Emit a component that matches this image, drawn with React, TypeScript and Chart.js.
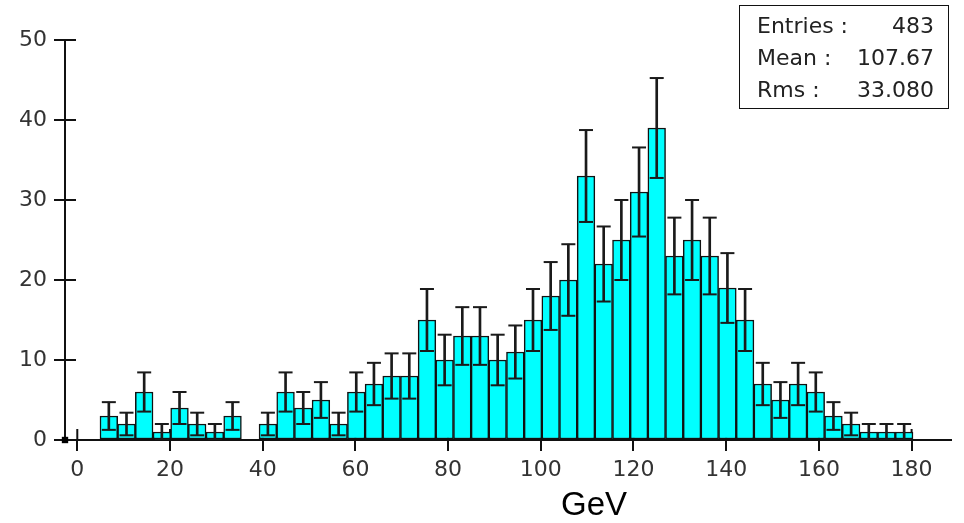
import React, { useEffect, useRef } from "react";
import { Chart, registerables } from "chart.js";

Chart.register(...registerables);

// Histogram definition (GeV)
const binLow = 4.9;
const binWidth = 3.813;
const counts = [
  3, 2, 6, 1, 4, 2, 1, 3, 0, 2, 6, 4, 5, 2, 6, 7, 8, 8, 15, 10, 13, 13, 10, 11,
  15, 18, 20, 33, 22, 25, 31, 39, 23, 25, 23, 19, 15, 7, 5, 7, 6, 3, 2, 1, 1, 1,
];
const xTicks = [0, 20, 40, 60, 80, 100, 120, 140, 160, 180];
const yTicks = [0, 10, 20, 30, 40, 50];
const xMin = -2.65;
const xMax = 188.5;
const yMin = 0;
const yMax = 50;
const axisTitle = "GeV";
const statLabels = ["Entries :", "Mean :", "Rms :"];
const statValues = ["483", "107.67", "33.080"];

const innerTicks = {
  id: "innerTicks",
  beforeDatasetsDraw(chart: any) {
    const { ctx, chartArea, scales } = chart;
    ctx.save();
    ctx.strokeStyle = "#111";
    ctx.lineWidth = 2;
    scales.y.ticks.forEach((t: any) => {
      const y = scales.y.getPixelForValue(t.value);
      ctx.beginPath();
      ctx.moveTo(chartArea.left, y);
      ctx.lineTo(chartArea.left + 11, y);
      ctx.stroke();
    });
    scales.x.ticks.forEach((t: any) => {
      const x = scales.x.getPixelForValue(t.value);
      ctx.beginPath();
      ctx.moveTo(x, chartArea.bottom);
      ctx.lineTo(x, chartArea.bottom - 11);
      ctx.stroke();
    });
    ctx.restore();
  },
};

export default function App() {
  const ref = useRef<HTMLCanvasElement>(null);

  useEffect(() => {
    const centers = counts.map((_, i) => binLow + (i + 0.5) * binWidth);
    const barData = counts.map((c, i) => ({ x: centers[i], y: c }));
    const errData: any[] = [];
    const capData: any[] = [];
    counts.forEach((c, i) => {
      if (c > 0) {
        const e = Math.sqrt(c);
        errData.push({ x: centers[i], y: [c - e, c + e] });
        capData.push({ x: centers[i], y: c + e });
        capData.push({ x: centers[i], y: c - e });
      }
    });

    const tickFont = { family: "DejaVu Sans", size: 22 };

    const chart = new Chart(ref.current as HTMLCanvasElement, {
      type: "bar",
      data: {
        datasets: [
          {
            type: "scatter",
            data: [{ x: xMin, y: 0 }],
            pointRadius: 4.5,
            pointStyle: "rect",
            backgroundColor: "#000",
            borderColor: "#000",
            borderWidth: 0,
            clip: false,
            order: 0,
          } as any,
          {
            type: "scatter",
            data: capData,
            pointStyle: "line",
            pointRadius: 7,
            borderColor: "#1a1a1a",
            borderWidth: 2,
            order: 1,
          } as any,
          {
            type: "bar",
            data: errData,
            backgroundColor: "#1a1a1a",
            borderWidth: 0,
            barThickness: 2,
            grouped: false,
            order: 2,
          } as any,
          {
            type: "bar",
            data: barData,
            backgroundColor: "#00FFFF",
            borderColor: "#111",
            borderWidth: 1.5,
            borderSkipped: false,
            barPercentage: 1,
            categoryPercentage: 1,
            grouped: false,
            order: 3,
          } as any,
        ],
      },
      options: {
        animation: false,
        responsive: true,
        maintainAspectRatio: false,
        layout: { padding: { left: 0, top: 40, right: 13, bottom: 0 } },
        plugins: {
          legend: { display: false },
          tooltip: { enabled: false },
          title: { display: false },
        },
        scales: {
          x: {
            type: "linear",
            min: xMin,
            max: xMax,
            offset: false,
            afterBuildTicks: (s: any) => {
              s.ticks = xTicks.map((v) => ({ value: v }));
            },
            afterFit: (s: any) => {
              s.height = 83;
            },
            grid: {
              offset: false,
              drawOnChartArea: false,
              drawTicks: true,
              tickLength: 11,
              color: "#111",
              lineWidth: 2,
            },
            border: { display: true, color: "#111", width: 2 },
            ticks: {
              font: tickFont,
              color: "#333",
              padding: 6,
              maxRotation: 0,
              autoSkip: false,
            },
          },
          y: {
            type: "linear",
            min: yMin,
            max: yMax,
            afterBuildTicks: (s: any) => {
              s.ticks = yTicks.map((v) => ({ value: v }));
            },
            afterFit: (s: any) => {
              s.width = 65;
            },
            grid: {
              drawOnChartArea: false,
              drawTicks: true,
              tickLength: 11,
              color: "#111",
              lineWidth: 2,
            },
            border: { display: true, color: "#111", width: 2 },
            ticks: {
              font: tickFont,
              color: "#333",
              padding: 7,
              autoSkip: false,
            },
          },
        },
      } as any,
      plugins: [innerTicks],
    });

    return () => chart.destroy();
  }, []);

  return (
    <div
      style={{
        position: "fixed",
        left: 0,
        top: 0,
        width: 964,
        height: 523,
        background: "#fff",
      }}
    >
      <canvas ref={ref} />
      <div
        style={{
          position: "absolute",
          left: 739,
          top: 5,
          width: 210,
          height: 104,
          boxSizing: "border-box",
          border: "1.5px solid #111",
          padding: "4px 14px 0 17px",
          fontFamily: "DejaVu Sans",
          fontSize: 22,
          color: "#222",
          lineHeight: "32px",
        }}
      >
        {statLabels.map((l, i) => (
          <div
            key={l}
            style={{ display: "flex", justifyContent: "space-between" }}
          >
            <span>{l}</span>
            <span>{statValues[i]}</span>
          </div>
        ))}
      </div>
      <div
        style={{
          position: "absolute",
          left: 494,
          width: 200,
          top: 487,
          textAlign: "center",
          fontFamily: "Liberation Sans",
          fontSize: 33,
          lineHeight: 1,
          color: "#000",
        }}
      >
        {axisTitle}
      </div>
    </div>
  );
}
